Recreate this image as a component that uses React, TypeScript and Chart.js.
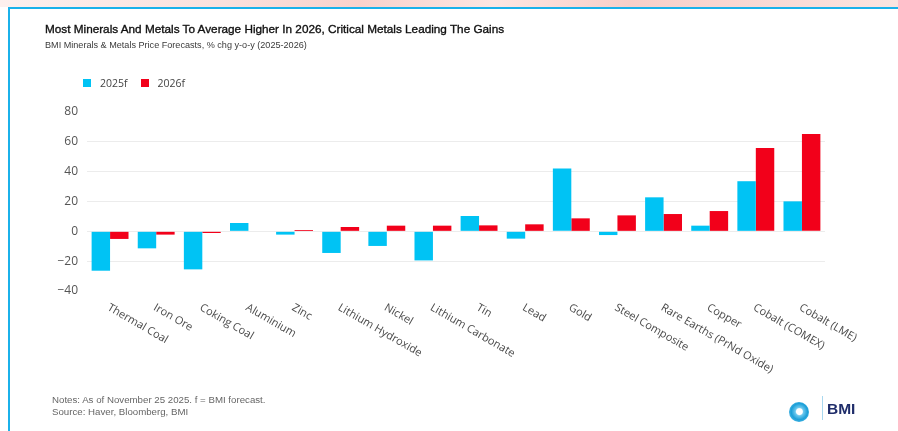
import React, { useEffect, useRef } from 'react';
import { Chart, registerables } from 'chart.js';

Chart.register(...registerables);

const categories = [
  'Thermal Coal', 'Iron Ore', 'Coking Coal', 'Aluminium', 'Zinc', 'Lithium Hydroxide',
  'Nickel', 'Lithium Carbonate', 'Tin', 'Lead', 'Gold', 'Steel Composite',
  'Rare Earths (PrNd Oxide)', 'Copper', 'Cobalt (COMEX)', 'Cobalt (LME)',
];
const series2025 = [-26.4, -11.4, -25.5, 5.6, -2.2, -14.5, -9.8, -19.5, 10.3, -4.9, 42.1, -2.5, 22.8, 3.8, 33.6, 20.1];
const series2026 = [-5.1, -2.2, -1.1, 0, 0.9, 2.9, 3.8, 3.8, 4.0, 4.7, 8.7, 10.7, 11.6, 13.6, 55.9, 65.3];
const seriesNames = ['2025f', '2026f'];
const yTicks = [-40, -20, 0, 20, 40, 60, 80];

const CYAN = '#00c3f4';
const RED = '#f2001a';

const rotatedLabels = {
  id: 'rotatedLabels',
  afterDraw(chart: any) {
    const xs = chart.scales.x;
    const area = chart.chartArea;
    const ctx = chart.ctx;
    const labels = xs.getLabels();
    ctx.save();
    ctx.font = '11px "Open Sans", sans-serif';
    ctx.fillStyle = '#4a4a4a';
    ctx.textAlign = 'left';
    ctx.textBaseline = 'top';
    labels.forEach((lab: string, i: number) => {
      const x = xs.getPixelForValue(i);
      ctx.save();
      ctx.translate(x + 1, area.bottom + 11);
      ctx.rotate(Math.PI / 6);
      ctx.fillText(lab, 0, 0);
      ctx.restore();
    });
    ctx.restore();
  },
};

export default function App() {
  const ref = useRef<HTMLCanvasElement | null>(null);

  useEffect(() => {
    if (!ref.current) return;
    const chart = new Chart(ref.current, {
      type: 'bar',
      data: {
        labels: categories,
        datasets: [
          { label: seriesNames[0], data: series2025, backgroundColor: CYAN, borderWidth: 0 },
          { label: seriesNames[1], data: series2026, backgroundColor: RED, borderWidth: 0 },
        ],
      },
      options: {
        responsive: false,
        animation: false,
        devicePixelRatio: 1,
        layout: { padding: { left: 0, top: 112, right: 73, bottom: 140 } },
        plugins: { legend: { display: false }, title: { display: false }, tooltip: { enabled: false } },
        datasets: { bar: { categoryPercentage: 0.8, barPercentage: 1.0 } },
        scales: {
          x: {
            ticks: { display: false },
            grid: { display: false },
            border: { display: false },
            afterFit: (s: any) => { s.height = 0; },
          },
          y: {
            min: -40,
            max: 80,
            afterBuildTicks: (s: any) => { s.ticks = yTicks.map((v) => ({ value: v })); },
            afterFit: (s: any) => { s.width = 87; },
            ticks: {
              padding: 9,
              color: '#555555',
              font: { family: '"Open Sans", sans-serif', size: 12 },
              callback: (v: any) => String(v).replace('-', '\u2212'),
            },
            grid: {
              drawTicks: false,
              color: (c: any) => (c.tick && (c.tick.value === 80 || c.tick.value === -40) ? 'rgba(0,0,0,0)' : '#ececec'),
              lineWidth: 1,
            },
            border: { display: false },
          },
        },
      },
      plugins: [rotatedLabels],
    } as any);
    return () => chart.destroy();
  }, []);

  const abs = (s: React.CSSProperties): React.CSSProperties => ({ position: 'absolute', ...s });

  return (
    <div style={abs({ left: 0, top: 0, width: 898, height: 431, overflow: 'hidden', background: '#ffffff' })}>
      <div style={abs({ left: 0, top: 0, width: 898, height: 7, background: 'linear-gradient(90deg, #fdf0ee 0%, #fbe1dd 25%, #f9d2cc 40%, #fde6e2 55%, #f8cfc9 70%, #fbe4e0 100%)' })} />
      <div style={abs({ left: 8, top: 7, width: 890, height: 2, background: '#1bb1ea' })} />
      <div style={abs({ left: 8, top: 7, width: 2, height: 424, background: '#1bb1ea' })} />
      <canvas ref={ref} width={898} height={431} style={abs({ left: 0, top: 0, width: 898, height: 431 })} />
      <div style={abs({ left: 45, top: 22, fontFamily: '"Liberation Sans", Arial, sans-serif', fontSize: 11.75, lineHeight: '14px', color: '#111111', whiteSpace: 'nowrap', WebkitTextStroke: '0.35px #111111' } as any)}>
        Most Minerals And Metals To Average Higher In 2026, Critical Metals Leading The Gains
      </div>
      <div style={abs({ left: 45, top: 40, fontFamily: '"Liberation Sans", Arial, sans-serif', fontSize: 9.1, lineHeight: '11px', color: '#3a3a3a', whiteSpace: 'nowrap' })}>
        BMI Minerals &amp; Metals Price Forecasts, % chg y-o-y (2025-2026)
      </div>
      <div style={abs({ left: 83, top: 76, display: 'flex', alignItems: 'center', fontFamily: '"Open Sans", sans-serif', fontSize: 10.5, lineHeight: '14px', color: '#444444', whiteSpace: 'nowrap' })}>
        <span style={{ display: 'inline-block', width: 8, height: 8, background: CYAN, marginRight: 9 }} />
        <span style={{ marginRight: 13 }}>{seriesNames[0]}</span>
        <span style={{ display: 'inline-block', width: 8, height: 8, background: RED, marginRight: 9 }} />
        <span>{seriesNames[1]}</span>
      </div>
      <div style={abs({ left: 52, top: 394, fontFamily: '"Liberation Sans", Arial, sans-serif', fontSize: 9.7, lineHeight: '12px', color: '#666666', whiteSpace: 'nowrap' })}>
        Notes: As of November 25 2025. f = BMI forecast.
      </div>
      <div style={abs({ left: 52, top: 406, fontFamily: '"Liberation Sans", Arial, sans-serif', fontSize: 9.7, lineHeight: '12px', color: '#666666', whiteSpace: 'nowrap' })}>
        Source: Haver, Bloomberg, BMI
      </div>
      <div style={abs({ left: 789, top: 402, width: 20, height: 20, borderRadius: '50%', background: 'radial-gradient(circle at 52% 48%, #ffffff 0%, #ffffff 20%, #6cc8ee 28%, #1c9fd8 55%, #7fd0f0 100%)' })} />
      <div style={abs({ left: 822, top: 396, width: 1, height: 24, background: '#a9d8ef' })} />
      <div style={abs({ left: 827, top: 400, fontFamily: '"Liberation Sans", Arial, sans-serif', fontSize: 15.5, lineHeight: '17px', fontWeight: 'bold', color: '#1f2d6a', whiteSpace: 'nowrap' })}>
        BMI
      </div>
    </div>
  );
}
